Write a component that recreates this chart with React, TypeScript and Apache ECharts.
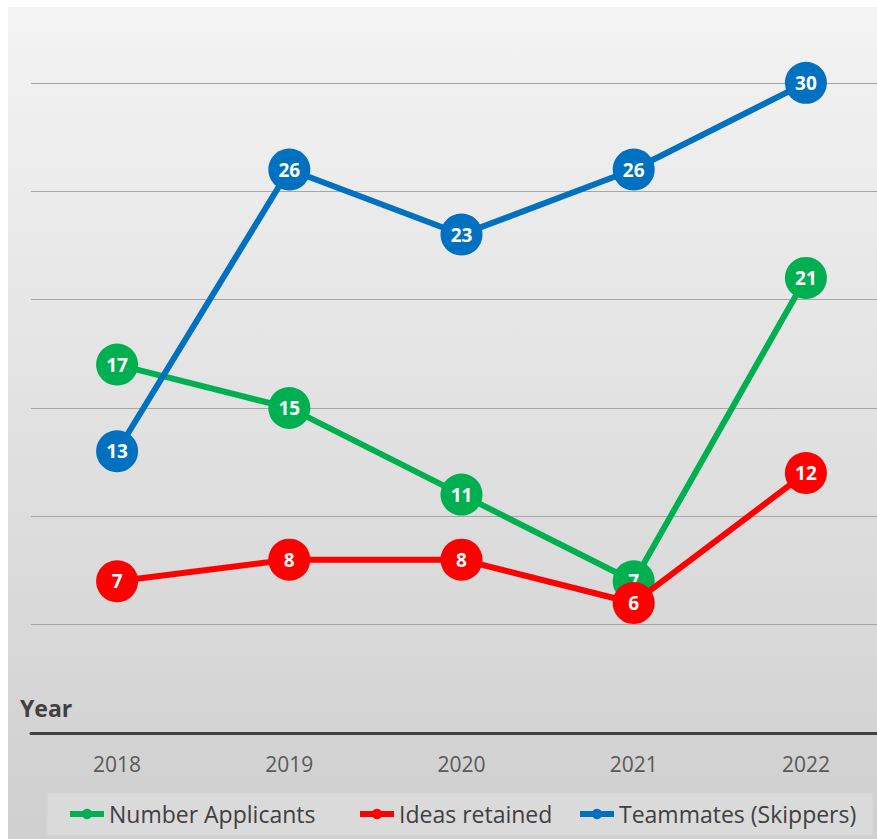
import React, { useEffect, useRef } from "react";
import * as echarts from "echarts";

const years = ["2018", "2019", "2020", "2021", "2022"];
const applicants = [17, 15, 11, 7, 21];
const ideasRetained = [7, 8, 8, 6, 12];
const teammates = [13, 26, 23, 26, 30];
const seriesNames = ["Number Applicants", "Ideas retained", "Teammates (Skippers)"];
const seriesColors = ["#00b050", "#ff0000", "#0070c0"];

const FONT = "'Open Sans', 'Noto Sans', sans-serif";
const T = 40; // hidden extra height above the visible area
const R = 20; // hidden extra width to the right

export default function App() {
  const ref = useRef<HTMLDivElement>(null);
  useEffect(() => {
    if (!ref.current) return;
    const chart = echarts.init(ref.current, undefined, { renderer: "svg" });
    const dataSets = [applicants, ideasRetained, teammates];
    const legendLefts = [59, 349, 569];
    chart.setOption({
      animation: false,
      backgroundColor: {
        type: "linear",
        x: 0, y: 0, x2: 0, y2: 1,
        colorStops: [
          { offset: 0, color: "#f5f5f5" },
          { offset: 1, color: "#cfcfcf" },
        ],
      },
      grid: { left: 23, right: 5, top: 7.5, bottom: 106, containLabel: false },
      xAxis: {
        type: "category",
        data: years,
        boundaryGap: true,
        axisLine: { show: true, lineStyle: { color: "#404040", width: 3 } },
        axisTick: { show: false },
        axisLabel: { color: "#595959", fontSize: 21, fontFamily: FONT, margin: 20 },
        splitLine: { show: false },
      },
      yAxis: {
        type: "value",
        min: 0,
        max: 35,
        interval: 5,
        axisLine: { show: false },
        axisTick: { show: false },
        axisLabel: { show: false },
        splitLine: { show: true, lineStyle: { color: "#a6a6a6", width: 1 } },
      },
      legend: seriesNames.map((name, i) => ({
        data: [name],
        left: legendLefts[i],
        top: 795 + T,
        padding: 0,
        orient: "horizontal",
        itemWidth: 34,
        itemHeight: 13,
        lineStyle: { width: 6 },
        textStyle: { color: "#404040", fontSize: 23, fontFamily: FONT, lineHeight: 24 },
        selectedMode: false,
      })),
      graphic: [
        {
          type: "rect",
          shape: { x: 39, y: 786 + T, width: 826, height: 42 },
          style: { fill: "#dadada", stroke: "#d4d4d4", lineWidth: 1 },
          z: -1,
          silent: true,
        },
        {
          type: "text",
          left: 12,
          top: 689 + T,
          style: {
            text: "Year",
            fill: "#404040",
            font: `bold 23px ${FONT}`,
          },
        },
      ],
      series: seriesNames.map((name, i) => ({
        name,
        type: "line",
        data: dataSets[i],
        color: seriesColors[i],
        symbol: "circle",
        symbolSize: 42,
        lineStyle: { width: 6, color: seriesColors[i] },
        itemStyle: { color: seriesColors[i] },
        label: {
          show: true,
          position: "inside",
          color: "#ffffff",
          fontSize: 19,
          fontWeight: "bold",
          fontFamily: FONT,
        },
        z: 2 + i,
      })),
    });
    return () => chart.dispose();
  }, []);
  return (
    <div
      style={{
        position: "fixed",
        left: 8,
        top: 7,
        width: 869,
        height: 832,
        overflow: "hidden",
      }}
    >
      <div
        ref={ref}
        style={{ position: "absolute", left: 0, top: -T, width: 869 + R, height: 832 + T }}
      />
    </div>
  );
}
